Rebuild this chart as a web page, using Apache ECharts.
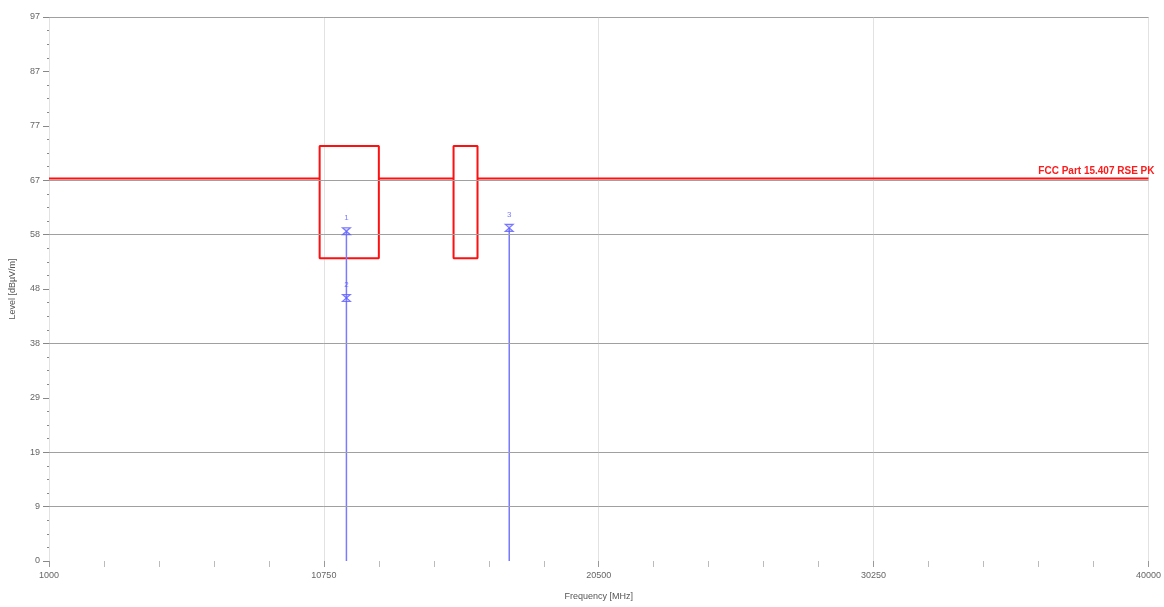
<!DOCTYPE html>
<html>
<head>
<meta charset="utf-8">
<script src="https://cdn.jsdelivr.net/npm/echarts@6/dist/echarts.min.js"></script>
<style>
html,body{margin:0;padding:0;background:#fff;}
#chart{width:1164px;height:607px;}
</style>
</head>
<body>
<div id="chart"></div>
<script>
// ---- data ----
const xTickMin = 1000, xTickMax = 40000, xTickInterval = 9750;
const yMin = 0, yMax = 97, yInterval = 9.7;
const gridLevels = [9.7, 19.4, 38.8, 58.2, 67.9, 97];

const limitName = 'FCC Part 15.407 RSE PK';
const limitFreq  = [1000, 10600, 10600, 12700, 12700, 10600, 10600, null, 12700, 15350, 15350, 16200, 16200, 15350, 15350, null, 16200, 40000];
const limitLevel = [68.2, 68.2, 74, 74, 54, 54, 68.2, null, 68.2, 68.2, 74, 74, 54, 54, 68.2, null, 68.2, 68.2];

const traceFreq  = [11550, 11550, null, 17325, 17325];
const traceLevel = [0, 58.8, null, 0, 59.4];

const markerFreq   = [11550, 11550, 17325];
const markerLevel  = [58.8, 46.9, 59.4];
const markerLabels = ['1', '2', '3'];

// ---- build ----
const limitData = limitFreq.map((f, i) => f === null ? [null, null] : [f, limitLevel[i]]);
const lastIdx = limitFreq.length - 1;
const traceData = traceFreq.map((f, i) => f === null ? [null, null] : [f, traceLevel[i]]);
const markerData = markerFreq.map((f, i) => ({ value: [f, markerLevel[i]], name: markerLabels[i] }));

const chart = echarts.init(document.getElementById('chart'));
chart.setOption({
  animation: false,
  backgroundColor: '#fff',
  grid: { left: 47, right: 14, top: 17, bottom: 46 },
  xAxis: {
    type: 'value', min: xTickMin, max: xTickMax, interval: xTickInterval,
    name: 'Frequency [MHz]', nameLocation: 'middle', nameGap: 31,
    nameTextStyle: { color: '#555', fontSize: 9, fontFamily: 'Liberation Sans' },
    axisLine: { show: false },
    axisTick: { show: true, length: 6, lineStyle: { color: '#999' } },
    minorTick: { show: true, splitNumber: 5, length: 6, lineStyle: { color: '#bbb' } },
    axisLabel: { color: '#666', fontSize: 9, margin: 10, fontFamily: 'Liberation Sans',
      formatter: v => String(Math.round(v)) },
    splitLine: { show: true, lineStyle: { color: '#e2e2e2', width: 1 } }
  },
  yAxis: {
    type: 'value', min: yMin, max: yMax, interval: yInterval,
    name: 'Level [dBµV/m]', nameLocation: 'middle', nameGap: 32,
    nameTextStyle: { color: '#555', fontSize: 9, fontFamily: 'Liberation Sans' },
    axisLine: { show: false },
    axisTick: { show: true, length: 6, lineStyle: { color: '#888' } },
    minorTick: { show: true, splitNumber: 4, length: 2, lineStyle: { color: '#888' } },
    axisLabel: {
      color: '#666', fontSize: 9, margin: 9, fontFamily: 'Liberation Sans',
      formatter: v => String(Math.floor(v + 1e-6))
    },
    splitLine: { show: false }
  },
  series: [
    {
      type: 'line', data: [], silent: true, z: 1,
      markLine: {
        silent: true, symbol: 'none', label: { show: false },
        lineStyle: { color: '#a0a0a0', width: 1, type: 'solid' },
        data: gridLevels.map(v => ({ yAxis: v }))
      }
    },
    {
      type: 'line', name: limitName, data: limitData, connectNulls: false,
      showSymbol: false, symbol: 'none', z: 3,
      lineStyle: { color: '#ff1010', width: 2 },
      itemStyle: { color: '#ff1010' },
      markPoint: {
        silent: true, symbol: 'circle', symbolSize: 1,
        itemStyle: { color: 'rgba(0,0,0,0)' },
        label: {
          show: true, formatter: limitName, position: 'top', align: 'right',
          distance: 2, offset: [6, 0], color: '#ff1a1a', fontSize: 10, fontWeight: 'bold',
          fontFamily: 'Liberation Sans'
        },
        data: [{ coord: [limitFreq[lastIdx], limitLevel[lastIdx]] }]
      }
    },
    {
      type: 'line', name: 'trace', data: traceData, connectNulls: false,
      showSymbol: false, symbol: 'none', z: 4,
      lineStyle: { color: '#7a7aff', width: 1.5 }
    },
    {
      type: 'scatter', name: 'markers', data: markerData, z: 5,
      symbol: 'path://M0,0 L10,0 L0,10 L10,10 Z', symbolSize: [8, 7],
      itemStyle: { color: 'rgba(120,120,255,0.35)', borderColor: '#5a5aff', borderWidth: 1.2 },
      label: {
        show: true, position: 'top', distance: 5, formatter: p => p.name,
        color: '#5a5aff', fontSize: 8, fontFamily: 'Liberation Sans'
      }
    }
  ]
});
</script>
</body>
</html>
